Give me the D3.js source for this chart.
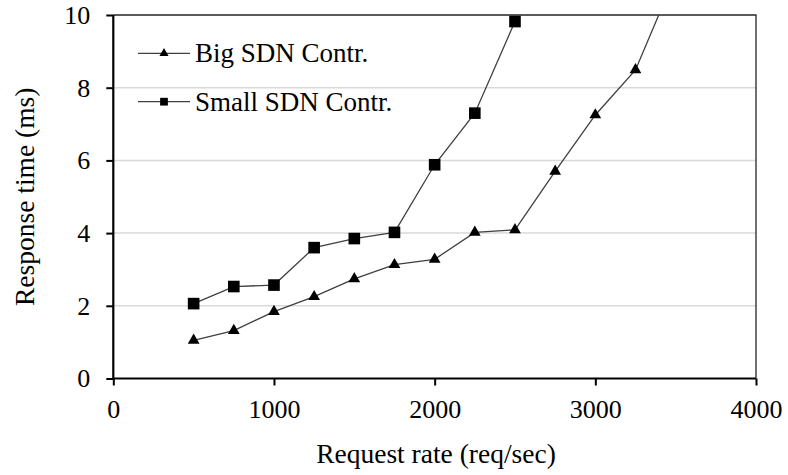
<!DOCTYPE html>
<html>
<head>
<meta charset="utf-8">
<script src="https://cdn.jsdelivr.net/npm/d3@7"></script>
<style>
  html, body { margin: 0; padding: 0; background: #fff; }
  svg text { font-family: "Liberation Serif", "Times New Roman", serif; fill: #000; }
</style>
</head>
<body>
<svg id="chart" width="788" height="475"></svg>
<script>
// Request rate (req/sec) for each measurement
const rateBig = [500, 750, 1000, 1250, 1500, 1750, 2000, 2250, 2500, 2750, 3000, 3250, 3500];
const rateSmall = [500, 750, 1000, 1250, 1500, 1750, 2000, 2250, 2500];
// Response time (ms)
const timeBig = [1.05, 1.32, 1.84, 2.25, 2.74, 3.13, 3.28, 4.02, 4.09, 5.70, 7.25, 8.49, 11.1];
const timeSmall = [2.06, 2.53, 2.57, 3.60, 3.85, 4.02, 5.88, 7.30, 9.82];

const xTicks = [0, 1000, 2000, 3000, 4000];
const yTicks = [0, 2, 4, 6, 8, 10];
const seriesNames = ["Big SDN Contr.", "Small SDN Contr."];

const svg = d3.select("#chart");
const plotL = 113.3, plotR = 756, plotT = 15, plotB = 378.5;

const x = d3.scaleLinear().domain([0, 4000]).range([plotL, plotR]);
const y = d3.scaleLinear().domain([0, 10]).range([plotB, plotT]);

// clip region for the plot area
svg.append("defs").append("clipPath").attr("id", "plotClip")
  .append("rect").attr("x", plotL).attr("y", plotT).attr("width", plotR - plotL).attr("height", plotB - plotT);

// horizontal gridlines
svg.append("g").selectAll("line").data(yTicks.filter(v => v > 0 && v < 10)).join("line")
  .attr("x1", plotL).attr("x2", plotR)
  .attr("y1", d => y(d)).attr("y2", d => y(d))
  .attr("stroke", "#d9d9d9").attr("stroke-width", 1.5);

// frame: top and right edges
svg.append("path")
  .attr("d", `M${plotL},${y(10)}H${plotR}V${plotB}`)
  .attr("fill", "none").attr("stroke", "#262626").attr("stroke-width", 1.3);

// axes
const xAxis = d3.axisBottom(x).tickValues(xTicks).tickSize(7).tickPadding(14).tickFormat(d3.format("d"));
const gx = svg.append("g").attr("transform", `translate(0,${plotB})`).call(xAxis);
gx.select(".domain").attr("d", `M${plotL},0H${plotR}`).attr("stroke", "#000").attr("stroke-width", 2.2);
gx.selectAll(".tick line").attr("stroke", "#000").attr("stroke-width", 2);
gx.selectAll(".tick text").attr("font-size", 26).attr("fill", "#000");

const yAxis = d3.axisLeft(y).tickValues(yTicks).tickSize(7).tickPadding(16).tickFormat(d3.format("d"));
const gy = svg.append("g").attr("transform", `translate(${plotL},0)`).call(yAxis);
gy.select(".domain").attr("d", `M0,${plotT}V${plotB}`).attr("stroke", "#000").attr("stroke-width", 2.2);
gy.selectAll(".tick line").attr("stroke", "#000").attr("stroke-width", 2);
gy.selectAll(".tick text").attr("font-size", 26).attr("fill", "#000");

// axis titles
svg.append("text").attr("x", 436).attr("y", 463)
  .attr("text-anchor", "middle").attr("font-size", 27.5).text("Request rate (req/sec)");
svg.append("text").attr("transform", `translate(34,${(plotT + plotB) / 2}) rotate(-90)`)
  .attr("text-anchor", "middle").attr("font-size", 27.5).text("Response time (ms)");

const triangle = d3.symbol().type(d3.symbolTriangle);
const square = d3.symbol().type(d3.symbolSquare);

const series = [
  { name: seriesNames[0], xs: rateBig, ys: timeBig, sym: triangle, size: 60, legSize: 36 },
  { name: seriesNames[1], xs: rateSmall, ys: timeSmall, sym: square, size: 135, legSize: 60 }
];

const lineGen = d3.line().x(d => x(d[0])).y(d => y(d[1]));
const plot = svg.append("g").attr("clip-path", "url(#plotClip)");

series.forEach(s => {
  const pts = s.xs.map((v, i) => [v, s.ys[i]]);
  plot.append("path").datum(pts).attr("d", lineGen)
    .attr("fill", "none").attr("stroke", "#404040").attr("stroke-width", 1.3);
  svg.append("g").selectAll("path").data(pts.filter(p => p[1] <= 10)).join("path")
    .attr("transform", p => `translate(${x(p[0])},${y(p[1])})`)
    .attr("d", s.sym.size(s.size)()).attr("fill", "#000");
});

// legend
const legendRows = [53.3, 101.7];
series.forEach((s, i) => {
  const g = svg.append("g").attr("transform", `translate(0,${legendRows[i]})`);
  g.append("line").attr("x1", 138).attr("x2", 190).attr("y1", 0).attr("y2", 0)
    .attr("stroke", "#404040").attr("stroke-width", 1.3);
  g.append("path").attr("transform", "translate(164,0)").attr("d", s.sym.size(s.legSize)()).attr("fill", "#000");
  g.append("text").attr("x", 195).attr("y", 9).attr("font-size", 27).text(s.name);
});
</script>
</body>
</html>
